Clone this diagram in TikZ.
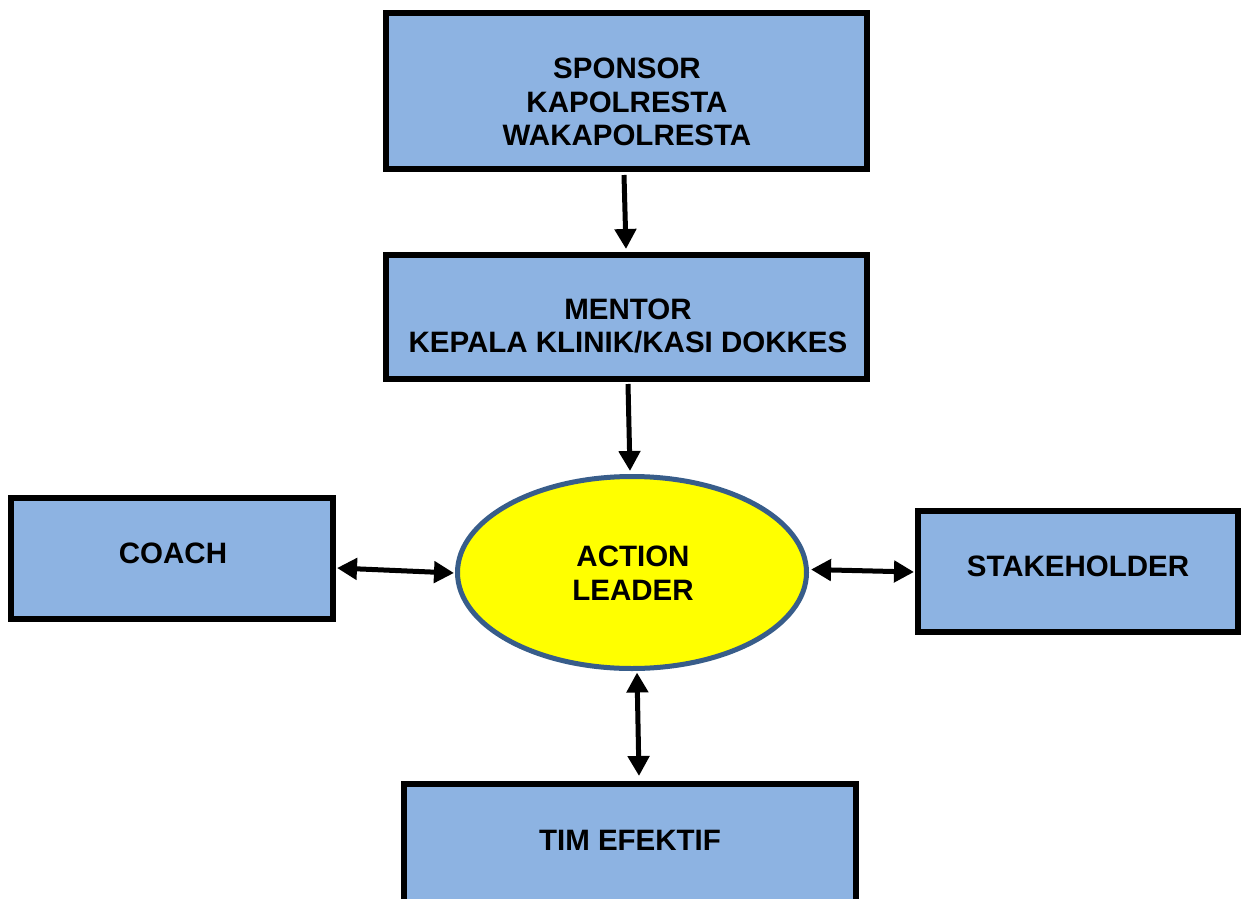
\documentclass[tikz,border=0pt]{standalone}
\usepackage{fontspec}
\setmainfont{Liberation Sans}
\usetikzlibrary{shapes.geometric,arrows.meta}
\definecolor{boxblue}{HTML}{8DB3E2}
\definecolor{rimblue}{HTML}{385D8A}
\definecolor{leaderyellow}{HTML}{FFFF00}
\tikzset{
  orgbox/.style={draw=black, line width=6pt, fill=boxblue, rectangle, inner sep=0pt},
  leaderellipse/.style={ellipse, draw=rimblue, line width=5pt, fill=leaderyellow, inner sep=0pt},
  lbl/.style={font=\fontsize{29.5}{33.5}\selectfont\bfseries, align=center, inner sep=0pt},
  arr/.style={line width=5pt, -{Triangle[length=20pt,width=21pt]}},
  darr/.style={line width=5pt, {Triangle[length=20pt,width=21pt]}-{Triangle[length=20pt,width=21pt]}},
}
\begin{document}
\begin{tikzpicture}[x=1pt,y=-1pt]
  \useasboundingbox (0,0) rectangle (1242,899);
  \clip (0,0) rectangle (1242,899);
  \fill[white] (0,0) rectangle (1242,899);

  % boxes
  \node[orgbox, minimum width=481pt, minimum height=156pt] (sponsor) at (626.5,91) {};
  \node[orgbox, minimum width=481pt, minimum height=124pt] (mentor) at (626.5,317) {};
  \node[orgbox, minimum width=322pt, minimum height=121pt] (coach) at (172,558.5) {};
  \node[orgbox, minimum width=320pt, minimum height=121pt] (stake) at (1078,571.5) {};
  \node[orgbox, minimum width=452pt, minimum height=134pt] (tim) at (630,851) {};
  \node[leaderellipse, minimum width=349pt, minimum height=192pt] (leader) at (632,572.5) {};

  % labels
  \node[lbl] (tsponsor) at (627,102) {SPONSOR\\KAPOLRESTA\\WAKAPOLRESTA};
  \node[lbl] (tmentor) at (628,326) {MENTOR\\KEPALA KLINIK/KASI DOKKES};
  \node[lbl] (tcoach) at (173,553) {COACH};
  \node[lbl] (tstake) at (1078,566) {STAKEHOLDER};
  \node[lbl] (tleader) at (633,573) {ACTION\\LEADER};
  \node[lbl] (ttim) at (630,840) {TIM EFEKTIF};

  % connectors
  \draw[arr] ([xshift=-2.5pt,yshift=-3pt]sponsor.south) -- ([xshift=-0.5pt,yshift=3pt]mentor.north);
  \draw[arr] ([xshift=1.5pt,yshift=-2pt]mentor.south) -- ([xshift=-2pt,yshift=3pt]leader.north);
  \draw[darr] ([xshift=1pt,yshift=-9.5pt]coach.east) -- ([xshift=-1pt,yshift=-0.5pt]leader.west);
  \draw[darr] ([xshift=2pt,yshift=3pt]leader.east) -- ([xshift=-1pt,yshift=-0.5pt]stake.west);
  \draw[darr] ([xshift=5pt,yshift=-1.5pt]leader.south) -- ([xshift=9pt,yshift=5pt]tim.north);
\end{tikzpicture}
\end{document}
